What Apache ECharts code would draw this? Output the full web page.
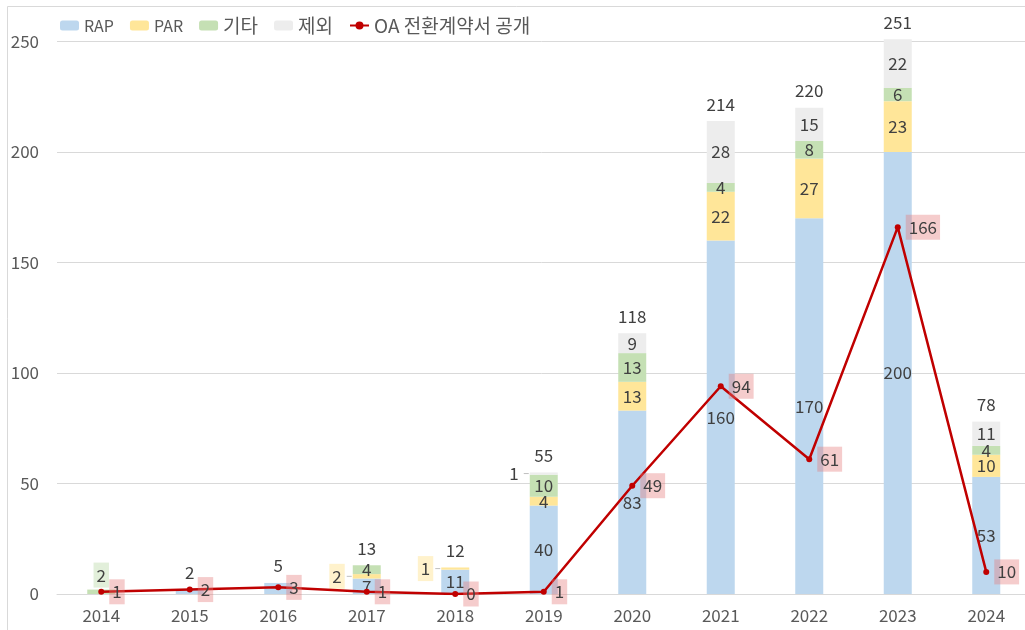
<!DOCTYPE html>
<html>
<head>
<meta charset="utf-8">
<script src="https://cdn.jsdelivr.net/npm/echarts@6/dist/echarts.min.js"></script>
<style>
  html, body { margin: 0; padding: 0; background: #fff; }
  #chart { width: 1025px; height: 630px; }
</style>
</head>
<body>
<div id="chart"></div>
<script>
const years = ["2014", "2015", "2016", "2017", "2018", "2019", "2020", "2021", "2022", "2023", "2024"]
const rap = [0, 2, 5, 7, 11, 40, 83, 160, 170, 200, 53]
const par = [0, 0, 0, 2, 1, 4, 13, 22, 27, 23, 10]
const etc = [2, 0, 0, 4, 0, 10, 13, 4, 8, 6, 4]
const excluded = [0, 0, 0, 0, 0, 1, 9, 28, 15, 22, 11]
const oaPublic = [1, 2, 3, 1, 0, 1, 49, 94, 61, 166, 10]
const totals = [null, 2, 5, 13, 12, 55, 118, 214, 220, 251, 78]

const font = "'Noto Sans CJK KR', 'Noto Sans', sans-serif"
const textColor = "#404040"
const labelSize = 17

// label pushed to the left of the bar with a short leader
function leftLabel(bg) {
  return {
    show: true,
    position: "left",
    distance: 0,
    formatter: "{t|{c}}{s|}{d|}{e|}",
    rich: {
      t: { backgroundColor: bg, padding: [4, 3], fontSize: labelSize, color: textColor, fontFamily: font },
      s: { width: 2, height: 1 },
      d: { width: 5, height: 1, backgroundColor: "#BFBFBF" },
      e: { width: 1, height: 1 },
    },
  }
}

function barSeries(name, values, color, overrides) {
  return {
    name: name,
    type: "bar",
    stack: "total",
    barWidth: 28,
    clip: false,
    itemStyle: { color: color },
    label: { show: true, position: "inside", color: textColor, fontSize: labelSize, fontFamily: font },
    data: values.map((v, i) => {
      if (overrides[i]) return { value: v, label: overrides[i] }
      if (!v) return { value: v, label: { show: false } }
      return v
    }),
  }
}

const chart = echarts.init(document.getElementById("chart"))

const latinLegend = { fontSize: 16 }
const koLegend = { fontSize: 19 }

chart.setOption({
  animation: false,
  backgroundColor: "#fff",
  graphic: [
    {
      type: "rect",
      shape: { x: 7.5, y: 6.5, width: 1100, height: 700 },
      style: { fill: "none", stroke: "#D9D9D9", lineWidth: 1 },
      silent: true,
    },
  ],
  legend: {
    left: 60,
    top: 16,
    padding: 0,
    itemWidth: 19,
    itemHeight: 10,
    itemGap: 16,
    data: [
      { name: "RAP", textStyle: latinLegend },
      { name: "PAR", textStyle: latinLegend },
      { name: "기타", textStyle: koLegend },
      { name: "제외", textStyle: koLegend },
      { name: "OA 전환계약서 공개", textStyle: koLegend },
    ],
    textStyle: { color: "#595959", fontSize: 16, fontFamily: font },
  },
  grid: { left: 57, width: 973.5, top: 41.5, bottom: 36, outerBoundsMode: "none", containLabel: false },
  xAxis: {
    type: "category",
    data: years,
    axisLine: { lineStyle: { color: "#D9D9D9" } },
    axisTick: { show: false },
    axisLabel: { color: "#595959", fontSize: 17, margin: 13, fontFamily: font },
  },
  yAxis: {
    type: "value",
    min: 0,
    max: 250,
    interval: 50,
    axisLine: { show: false },
    axisTick: { show: false },
    axisLabel: { color: "#595959", fontSize: 17, margin: 18, fontFamily: font },
    splitLine: { lineStyle: { color: "#D9D9D9" } },
  },
  series: [
    barSeries("RAP", rap, "#BDD7EE", { 1: { show: false }, 2: { show: false } }),
    barSeries("PAR", par, "#FFE699", { 3: leftLabel("#FFF2CC"), 4: leftLabel("#FFF2CC") }),
    barSeries("기타", etc, "#C5E0B4", {
      0: { show: true, position: "top", distance: 2, backgroundColor: "#E2EFDA", padding: [4, 3] },
    }),
    barSeries("제외", excluded, "#EDEDED", { 5: leftLabel("transparent") }),
    {
      name: "OA 전환계약서 공개",
      type: "line",
      data: oaPublic,
      z: 5,
      symbol: "circle",
      symbolSize: 6,
      itemStyle: { color: "#C00000" },
      lineStyle: { color: "#C00000", width: 2.5 },
      label: {
        show: true,
        position: "right",
        distance: 5,
        backgroundColor: "rgba(230, 120, 120, 0.38)",
        padding: [4, 3],
        color: textColor,
        fontSize: labelSize,
        fontFamily: font,
      },
    },
    {
      name: "합계",
      type: "scatter",
      data: totals,
      symbolSize: 1,
      silent: true,
      clip: false,
      z: 6,
      itemStyle: { color: "transparent", opacity: 1 },
      label: {
        show: true,
        position: "top",
        distance: 8,
        opacity: 1,
        color: textColor,
        fontSize: labelSize,
        fontFamily: font,
      },
    },
  ],
})
</script>
</body>
</html>
